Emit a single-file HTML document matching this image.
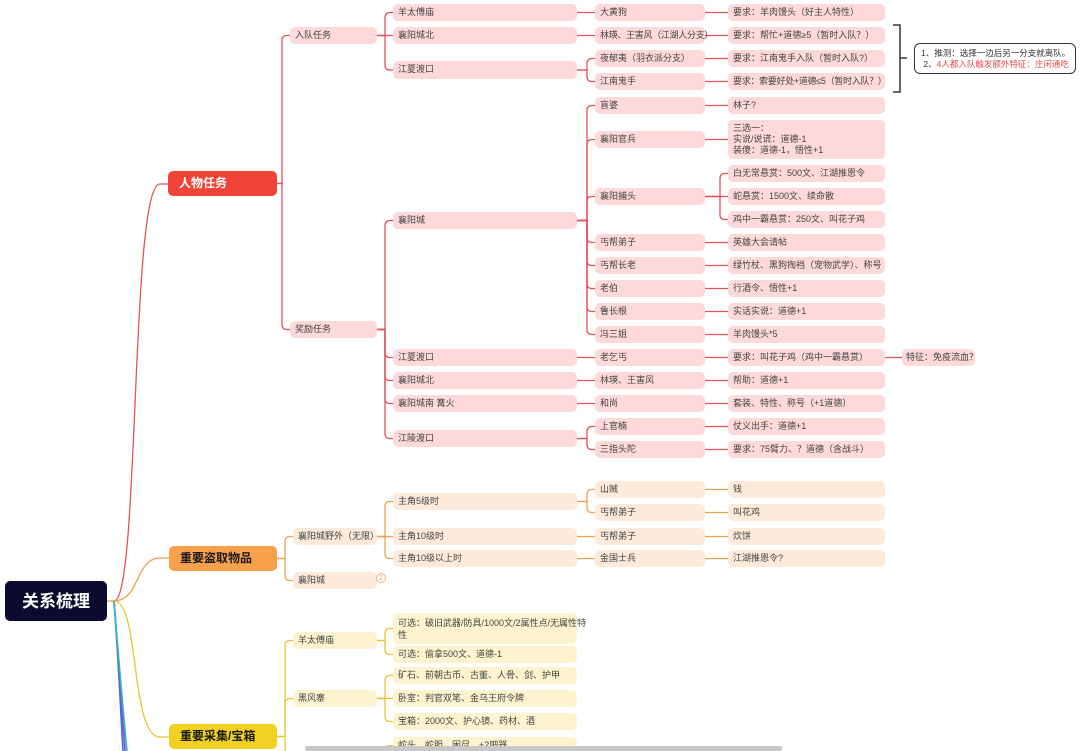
<!DOCTYPE html>
<html><head><meta charset="utf-8">
<style>
html,body{margin:0;padding:0;background:#fff;width:1080px;height:751px;overflow:hidden;position:relative;font-family:"Liberation Sans","Noto Sans CJK SC",sans-serif;}
.n{position:absolute;box-sizing:border-box;border-radius:5px;font-size:9px;line-height:11px;color:#444;padding:3px 5px;white-space:nowrap;}
.r{background:#fdd9d9;}
.o{background:#fdeadb;}
.y{background:#fdf4cf;}
svg{position:absolute;left:0;top:0;}
</style></head><body>
<svg id="s" width="1080" height="751"></svg>
<div id="c"></div>
<div class="n" style="left:5px;top:581px;width:102px;height:40px;background:#0b0b2e;color:#fff;font-size:17px;font-weight:bold;display:flex;align-items:center;justify-content:center;border-radius:5px;">关系梳理</div>
<div class="n" style="left:914px;top:43px;width:162px;height:31px;background:#fff;border:1.5px solid #333;border-radius:6px;padding:4px 6px;line-height:11px;font-size:8.5px;color:#333;">1、推测：选择一边后另一分支就离队。<br>&nbsp;2、<span style="color:#e84a4a">4人都入队触发额外特征：庄闲通吃</span></div>
<div style="position:absolute;left:376px;top:573px;width:10px;height:10px;border:1px solid #f0b080;border-radius:50%;font-size:7px;color:#e0a070;text-align:center;line-height:10px;box-sizing:border-box;">2</div>
<div style="position:absolute;left:305px;top:746px;width:477px;height:5px;background:#c8c8c8;border-radius:2px;"></div>
<script>
var S=document.getElementById('s'),C=document.getElementById('c');
var nodes={};
function P(d,col,w){var p=document.createElementNS('http://www.w3.org/2000/svg','path');p.setAttribute('d',d);p.setAttribute('stroke',col);p.setAttribute('stroke-width',w||1.3);p.setAttribute('fill','none');S.appendChild(p);}
var col={r:'#e5505a',o:'#f0a050',y:'#e8c530'};
function N(id,x1,y1,x2,y2,t,cls,par,extra){
  var d=document.createElement('div');d.className='n '+cls;
  d.style.left=x1+'px';d.style.top=y1+'px';d.style.width=(x2-x1)+'px';d.style.height=(y2-y1)+'px';
  if(extra)d.style.cssText+=extra;
  d.innerHTML=t;C.appendChild(d);
  nodes[id]={x1:x1,y1:y1,x2:x2,y2:y2,cls:cls};
  if(par&&nodes[par]){var p=nodes[par];var py=(p.y1+p.y2)/2,cy=(y1+y2)/2;var c=col[cls[0]];
    var sx=x1-8;
    if(Math.abs(py-cy)<1){P('M'+p.x2+','+py+'H'+x1,c);}
    else{var r=Math.min(5,Math.abs(cy-py));var dir=cy>py?1:-1;
      P('M'+p.x2+','+py+'H'+sx+'V'+(cy-dir*r)+'Q'+sx+','+cy+' '+(sx+r)+','+cy+'H'+x1,c);}
  }
}
P('M107,601H114C140,601 130,184 160,184H168','#e5505a',1.3);
P('M107,601H114C140,601 135,558 160,558H169','#f0a050',1.3);
P('M107,601H114C140,601 130,737 160,737H169','#e8c530',1.3);
P('M114,601C118,650 120,700 123,751','#3a6fd8',1.6);
P('M114,601C118,650 121,700 125,751','#8a4ad0',1.6);
P('M114,601C118,650 122,700 127,751','#2ab8c0',1.6);
var L1='font-size:12px;font-weight:bold;padding:6px 11px;line-height:13px;';
N('r',168,171,277,196,'人物任务','r',null,'background:#f04438;color:#fff;'+L1);
N('o',169,546,277,571,'重要盗取物品','o',null,'background:#f5a04a;color:#1a1a1a;'+L1);
N('y',169,724,277,749,'重要采集/宝箱','y',null,'background:#f0d020;color:#1a1a1a;'+L1);
N('a',290,27,377,44,'入队任务','r','r');
N('b',290,321,377,338,'奖励任务','r','r');
N('a1',393,4,577,21,'羊太傅庙','r','a');
N('a2',393,27,577,44,'襄阳城北','r','a');
N('a3',393,61,577,79,'江夏渡口','r','a');
N('a1a',595,4,705,21,'大黄狗','r','a1');
N('a1b',728,4,885,21,'要求：羊肉馒头（好主人特性）','r','a1a');
N('a2a',595,27,705,44,'林瑛、王害风（江湖人分支）','r','a2','letter-spacing:-0.3px;');
N('a2b',728,27,885,44,'要求：帮忙+道德≥5（暂时入队？）','r','a2a');
N('a3a',595,50,705,67,'夜郁夷（羽衣派分支）','r','a3');
N('a3x',728,50,885,67,'要求：江南鬼手入队（暂时入队?）','r','a3a');
N('a3b',595,73,705,90,'江南鬼手','r','a3');
N('a3y',728,73,885,90,'要求：索要好处+道德≤5（暂时入队？）','r','a3b','letter-spacing:-0.3px;');
N('b1',393,212,577,229,'襄阳城','r','b');
var list=[['盲婆',97,114,'林子?',97,114],['襄阳官兵',131,148,'三选一：<br>实说/说谎：道德-1<br>装傻：道德-1，悟性+1',120,159],['襄阳捕头',188,205,null],
['丐帮弟子',234,251,'英雄大会请帖',234,251],['丐帮长老',257,274,'绿竹杖、黑狗掏裆（宠物武学）、称号',257,274],['老伯',280,297,'行酒令、悟性+1',280,297],['鲁长根',303,320,'实话实说：道德+1',303,320],['冯三姐',326,343,'羊肉馒头*5',326,343]];
list.forEach(function(e,i){N('b1_'+i,595,e[1],705,e[2],e[0],'r','b1');if(e[3])N('b1c_'+i,728,e[4],885,e[5],e[3],'r','b1_'+i);});
N('bt1',728,165,885,182,'白无常悬赏：500文、江湖推恩令','r','b1_2');
N('bt2',728,188,885,205,'蛇悬赏：1500文、续命散','r','b1_2');
N('bt3',728,211,885,228,'鸡中一霸悬赏：250文、叫花子鸡','r','b1_2');
N('b2',393,349,577,366,'江夏渡口','r','b');
N('b2a',595,349,705,366,'老乞丐','r','b2');
N('b2b',728,349,885,366,'要求：叫花子鸡（鸡中一霸悬赏）','r','b2a');
N('b2c',902,349,975,366,'特征：免疫流血？','r','b2b','padding-left:4px;');
N('b3',393,372,577,389,'襄阳城北','r','b');
N('b3a',595,372,705,389,'林瑛、王害风','r','b3');
N('b3b',728,372,885,389,'帮助：道德+1','r','b3a');
N('b4',393,395,577,412,'襄阳城南 篝火','r','b');
N('b4a',595,395,705,412,'和尚','r','b4');
N('b4b',728,395,885,412,'套装、特性、称号（+1道德）','r','b4a');
N('b5',393,430,577,447,'江陵渡口','r','b');
N('b5a',595,418,705,435,'上官楠','r','b5');
N('b5b',728,418,885,435,'仗义出手：道德+1','r','b5a');
N('b5c',595,441,705,458,'三指头陀','r','b5');
N('b5d',728,441,885,458,'要求：75臂力、？道德（含战斗）','r','b5c');
N('o1',293,528,377,545,'襄阳城野外（无限）','o','o');
N('o2',293,572,377,589,'襄阳城','o','o');
N('o11',393,493,577,510,'主角5级时','o','o1');
N('o12',393,528,577,545,'主角10级时','o','o1');
N('o13',393,550,577,567,'主角10级以上时','o','o1');
N('o111',595,481,705,498,'山贼','o','o11');N('o111a',728,481,885,498,'钱','o','o111');
N('o112',595,504,705,521,'丐帮弟子','o','o11');N('o112a',728,504,885,521,'叫花鸡','o','o112');
N('o121',595,528,705,545,'丐帮弟子','o','o12');N('o121a',728,528,885,545,'炊饼','o','o121');
N('o131',595,550,705,567,'金国士兵','o','o13');N('o131a',728,550,885,567,'江湖推恩令?','o','o131');
N('y1',293,632,377,649,'羊太傅庙','y','y');
N('y2',293,690,377,707,'黑风寨','y','y');
N('y3',293,760,377,777,'','y','y');
N('y11',393,613,577,644,'可选：破旧武器/防具/1000文/2属性点/无属性特<br>性','y','y1','padding-top:4px;line-height:12px;');
N('y12',393,646,577,663,'可选：偷拿500文、道德-1','y','y1');
N('y21',393,667,577,684,'矿石、前朝古币、古董、人骨、剑、护甲','y','y2');
N('y22',393,690,577,707,'卧室：判官双笔、金乌王府令牌','y','y2');
N('y23',393,713,577,730,'宝箱：2000文、护心镜、药材、酒','y','y2');
N('y31',393,737,577,754,'蛇头、蛇胆、困尽、+2吧器','y','y3');
P('M893,25H900V92H893','#333',1.5);P('M900,58H907','#333',1.5);
</script>
</body></html>
